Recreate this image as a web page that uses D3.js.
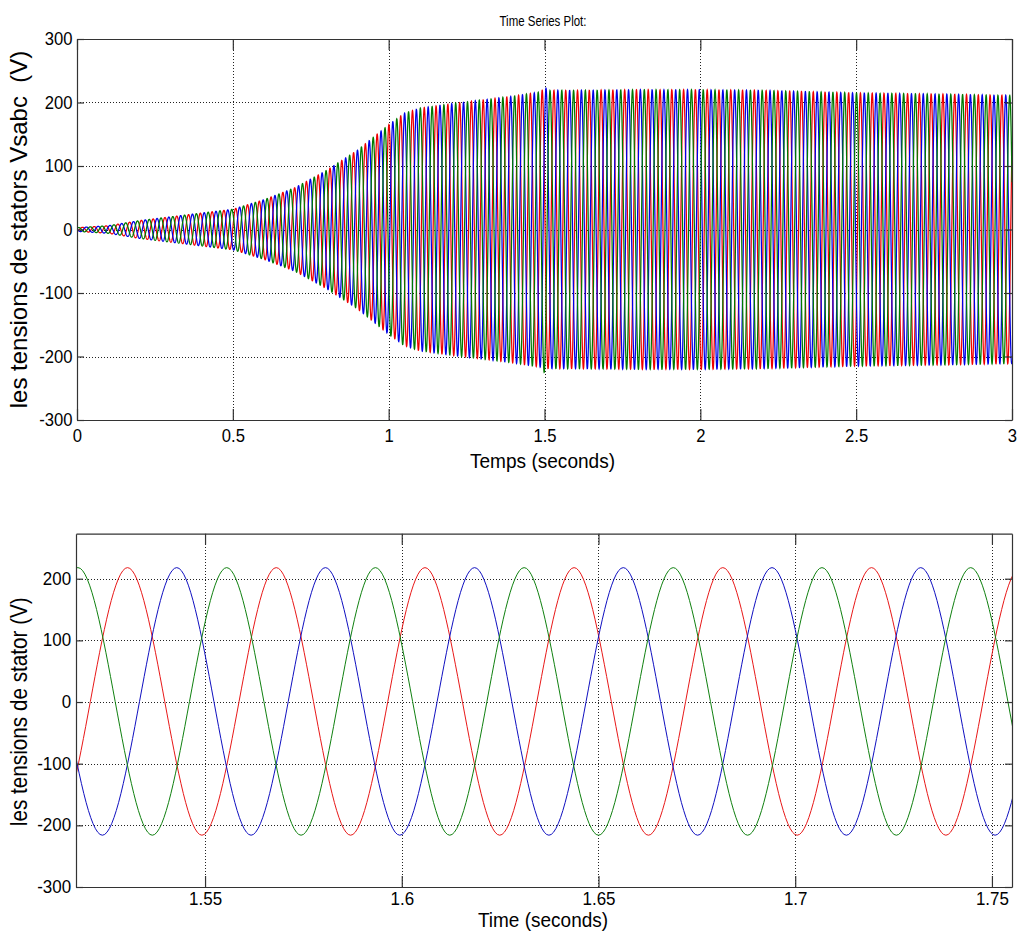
<!DOCTYPE html>
<html><head><meta charset="utf-8">
<script src="https://cdn.jsdelivr.net/npm/d3@7"></script>
<style>
html,body{margin:0;padding:0;background:#fff;}
svg{display:block;}
text{font-family:"Liberation Sans",Arial,Helvetica,sans-serif;fill:#000;}
</style></head><body>
<svg id="chart" width="1017" height="934"></svg>
<script>
// ================= DATA =================
const topTitle  = "Time Series Plot:";
const topXLabel = "Temps (seconds)";
const topYLabel = "les tensions de stators Vsabc  (V)";
const botXLabel = "Time (seconds)";
const botYLabel = "les tensions de stator (V)";

const topXDomain = [0, 3];
const topYDomain = [-300, 300];
const topXTicks = [0, 0.5, 1, 1.5, 2, 2.5, 3];
const topXTickLabels = ["0", "0.5", "1", "1.5", "2", "2.5", "3"];
const topYTicks = [-300, -200, -100, 0, 100, 200, 300];
const topYTickLabels = ["-300", "-200", "-100", "0", "100", "200", "300"];

const botXDomain = [1.5172, 1.7551];
const botYDomain = [-300, 273];
const botXTicks = [1.55, 1.6, 1.65, 1.7, 1.75];
const botXTickLabels = ["1.55", "1.6", "1.65", "1.7", "1.75"];
const botYTicks = [-300, -200, -100, 0, 100, 200];
const botYTickLabels = ["-300", "-200", "-100", "0", "100", "200"];

// Top plot: voltage build-up envelope (peak volts) read along the time axis
const envTime = [0, 0.1, 0.15, 0.2, 0.3, 0.4, 0.5, 0.6, 0.7, 0.8, 0.9, 0.95, 1.0, 1.05, 1.1, 1.2, 1.3, 1.4, 1.49, 1.5, 1.51, 1.6, 1.8, 2.0, 2.2, 2.5, 2.8, 3.0];
const envAmp  = [3, 6, 10, 14, 20, 26, 32, 47, 66, 93, 125, 145, 165, 183, 191, 198, 204, 210, 217, 226, 219, 219, 220, 220, 219, 215, 213, 211];
// carrier: period 0.03782 s, peak instants of each phase
const carrierFreq = 26.44;
const phasePeakTime = [1.5303, 1.5428, 1.5555];   // phase a (red), b (blue), c (green)

// Bottom plot: successive extrema (time, volts) of each phase
const redTime   = [1.4925, 1.5114, 1.5303, 1.5492, 1.5681, 1.5870, 1.6059, 1.6249, 1.6438, 1.6627, 1.6816, 1.7005, 1.7194, 1.7383, 1.7572, 1.7761];
const redVolt   = [218, -216, 218, -216, 218, -216, 218, -216, 218, -216, 218, -216, 218, -216, 218, -216];
const blueTime  = [1.4861, 1.5050, 1.5239, 1.5428, 1.5617, 1.5806, 1.5995, 1.6185, 1.6374, 1.6563, 1.6752, 1.6941, 1.7130, 1.7319, 1.7508, 1.7698, 1.7887];
const blueVolt  = [-216, 218, -216, 218, -216, 218, -216, 218, -216, 218, -216, 218, -216, 218, -216, 218, -216];
const greenTime = [1.4988, 1.5177, 1.5366, 1.5555, 1.5744, 1.5933, 1.6122, 1.6311, 1.6500, 1.6690, 1.6879, 1.7068, 1.7257, 1.7446, 1.7635, 1.7824];
const greenVolt = [-216, 218, -216, 218, -216, 218, -216, 218, -216, 218, -216, 218, -216, 218, -216, 218];

// ================= STYLE =================
const topColors = ["#f00000", "#0000e8", "#007a00"];
const botColors = ["#e81818", "#1010c0", "#108010"];

// ================= DRAW =================
const svg = d3.select("#chart");

function panel(cfg) {
  const x = d3.scaleLinear().domain(cfg.xDomain).range(cfg.xRange);
  const y = d3.scaleLinear().domain(cfg.yDomain).range(cfg.yRange);
  const [x0, x1] = cfg.xRange, [y0, y1] = cfg.yRange;
  const g = svg.append("g");

  svg.append("defs").append("clipPath").attr("id", cfg.id)
    .append("rect").attr("x", x0).attr("y", y1).attr("width", x1 - x0).attr("height", y0 - y1);

  // dotted grid
  const grid = g.append("g").attr("stroke", "#222").attr("stroke-width", 1).attr("stroke-dasharray", "1,2");
  grid.selectAll("line.gx").data(cfg.xTicks).join("line").attr("class", "gx")
    .attr("x1", d => Math.round(x(d)) + 0.5).attr("x2", d => Math.round(x(d)) + 0.5)
    .attr("y1", y0).attr("y2", y1);
  grid.selectAll("line.gy").data(cfg.yTicks).join("line").attr("class", "gy")
    .attr("y1", d => Math.round(y(d)) + 0.5).attr("y2", d => Math.round(y(d)) + 0.5)
    .attr("x1", x0).attr("x2", x1);

  // data
  const line = d3.line().x(d => x(d[0])).y(d => y(d[1])).curve(cfg.curve);
  g.append("g").attr("clip-path", `url(#${cfg.id})`)
    .selectAll("path").data(cfg.series).join("path")
    .attr("fill", "none")
    .attr("stroke", (d, i) => cfg.colors[i])
    .attr("stroke-width", cfg.lineWidth)
    .attr("d", d => line(d));

  // axes (ticks inside, MATLAB style box)
  const fmtX = (d) => cfg.xTickLabels[cfg.xTicks.indexOf(d)];
  const fmtY = (d) => cfg.yTickLabels[cfg.yTicks.indexOf(d)];
  const style = (sel) => {
    sel.attr("font-size", null).attr("font-family", null);
    sel.select(".domain").attr("stroke", "#333").attr("stroke-width", 1.2);
    sel.selectAll(".tick line").attr("stroke", "#333").attr("stroke-width", 1.2);
    sel.selectAll(".tick text").attr("font-size", cfg.tickFont)
      .attr("transform", `scale(${cfg.tickScale},1)`);
  };
  g.append("g").attr("transform", `translate(0,${y0})`)
    .call(d3.axisBottom(x).tickValues(cfg.xTicks).tickFormat(fmtX).tickSizeInner(-11).tickSizeOuter(0).tickPadding(cfg.xPad))
    .call(style);
  g.append("g").attr("transform", `translate(0,${y1})`)
    .call(d3.axisTop(x).tickValues(cfg.xTicks).tickFormat("").tickSizeInner(-11).tickSizeOuter(0))
    .call(style);
  g.append("g").attr("transform", `translate(${x0},0)`)
    .call(d3.axisLeft(y).tickValues(cfg.yTicks).tickFormat(fmtY).tickSizeInner(-7).tickSizeOuter(0).tickPadding(5))
    .call(style);
  g.append("g").attr("transform", `translate(${x1},0)`)
    .call(d3.axisRight(y).tickValues(cfg.yTicks).tickFormat("").tickSizeInner(-7).tickSizeOuter(0))
    .call(style);
}

// top plot series built from the read envelope and carrier
const envScale = d3.scaleLinear().domain(envTime).range(envAmp);
const tSamples = d3.range(0, 3.00001, 0.0004);
const topSeries = phasePeakTime.map(tp =>
  tSamples.map(t => [t, envScale(t) * Math.cos(2 * Math.PI * carrierFreq * (t - tp))]));

panel({
  id: "clipTop",
  xDomain: topXDomain, yDomain: topYDomain,
  xRange: [77, 1012], yRange: [420, 39],
  xTicks: topXTicks, xTickLabels: topXTickLabels,
  yTicks: topYTicks, yTickLabels: topYTickLabels,
  tickFont: 18.5, tickScale: 0.9, xPad: 9,
  series: topSeries, colors: topColors, lineWidth: 1.25,
  curve: d3.curveLinear
});

const botSeries = [
  redTime.map((t, i) => [t, redVolt[i]]),
  blueTime.map((t, i) => [t, blueVolt[i]]),
  greenTime.map((t, i) => [t, greenVolt[i]])
];
panel({
  id: "clipBot",
  xDomain: botXDomain, yDomain: botYDomain,
  xRange: [76, 1012], yRange: [887, 533.7],
  xTicks: botXTicks, xTickLabels: botXTickLabels,
  yTicks: botYTicks, yTickLabels: botYTickLabels,
  tickFont: 17.5, tickScale: 0.97, xPad: 6,
  series: botSeries, colors: botColors, lineWidth: 1,
  curve: d3.curveMonotoneX
});

// texts
svg.append("text").attr("text-anchor", "middle").attr("font-size", 14)
  .attr("transform", "translate(543,26) scale(0.82,1)").text(topTitle);
svg.append("text").attr("text-anchor", "middle").attr("font-size", 20.5)
  .attr("transform", "translate(542.5,468) scale(0.93,1)").text(topXLabel);
svg.append("text").attr("text-anchor", "middle").attr("font-size", 24)
  .attr("transform", "translate(27,229.5) rotate(-90)")
  .style("white-space", "pre").text(topYLabel);
svg.append("text").attr("text-anchor", "middle").attr("font-size", 20)
  .attr("transform", "translate(543,926.5) scale(0.95,1)").text(botXLabel);
svg.append("text").attr("text-anchor", "middle").attr("font-size", 23)
  .attr("transform", "translate(27,711.7) rotate(-90) scale(0.9,1)").text(botYLabel);
</script>
</body></html>
